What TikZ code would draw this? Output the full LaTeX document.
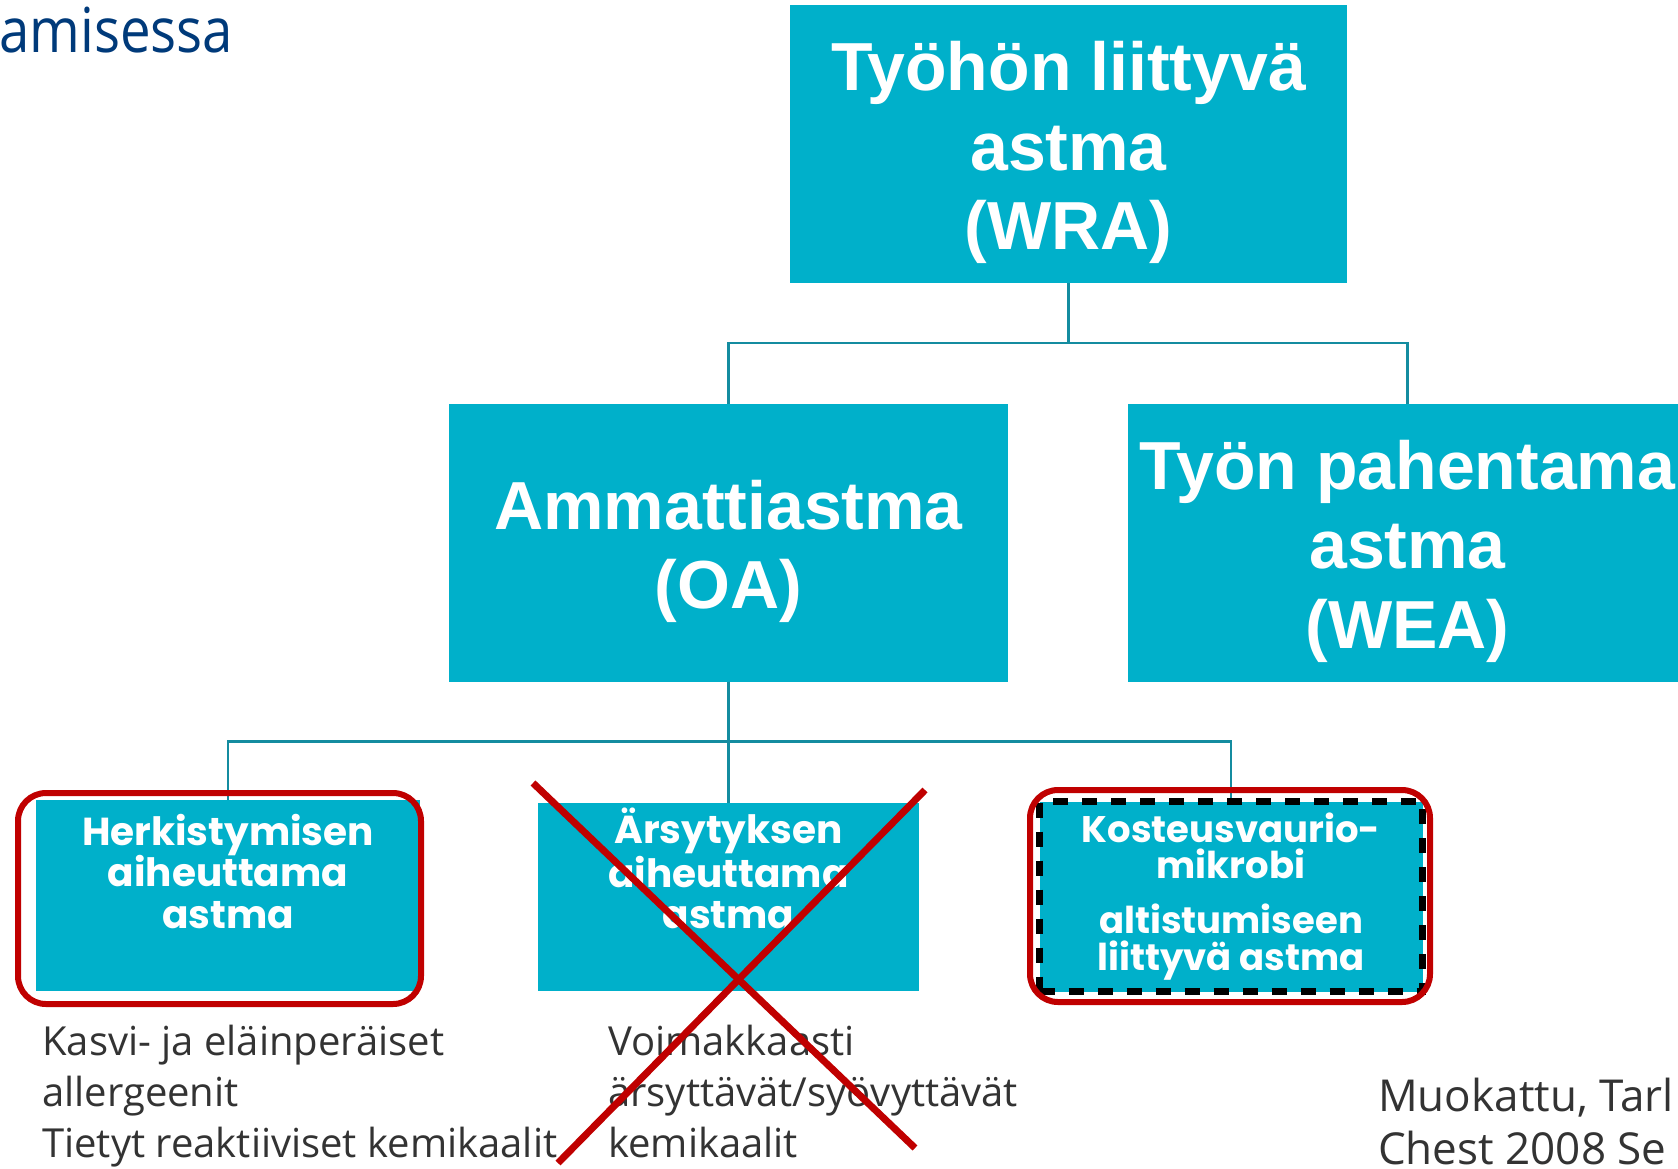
\documentclass[tikz,border=0pt]{standalone}
\usepackage{fontspec}
\newfontfamily\arialf{Liberation Sans}
\newfontfamily\futf{Poppins}
\newfontfamily\segf{Open Sans}
\newfontfamily\segtitle[FakeStretch=0.88]{Open Sans}
\definecolor{tealc}{RGB}{0,176,202}
\definecolor{connc}{RGB}{20,140,160}
\definecolor{redc}{RGB}{192,0,0}
\definecolor{titlec}{RGB}{0,58,122}
\definecolor{bodyc}{RGB}{51,51,51}
\tikzset{
  tealbox/.style={rectangle, fill=tealc, draw=none, inner sep=0pt, outer sep=0pt},
  bigtxt/.style={text=white, font=\arialf\bfseries\fontsize{68}{80}\selectfont, inner sep=0pt, anchor=base},
  smtxt/.style={text=white, font=\futf\bfseries\fontsize{39}{42}\selectfont, inner sep=0pt, anchor=base},
  kosttxt/.style={text=white, font=\futf\bfseries\fontsize{37}{40}\selectfont, inner sep=0pt, anchor=base},
  bodytxt/.style={text=bodyc, font=\segf\fontsize{40}{51}\selectfont, inner sep=0pt, anchor=base west},
  citetxt/.style={text=bodyc, font=\segf\fontsize{44}{53}\selectfont, inner sep=0pt, anchor=base west},
  conn/.style={draw=connc, line width=2.5pt},
  redring/.style={rectangle, draw=redc, line width=6pt, rounded corners=28pt, inner sep=0pt, fill=none},
  dashring/.style={rectangle, draw=black, line width=6.5pt, dash pattern=on 15pt off 14pt, inner sep=0pt},
  redx/.style={draw=redc, line width=7pt},
}
\begin{document}
\begin{tikzpicture}[x=1pt,y=-1pt]
\useasboundingbox (0,0) rectangle (1678,1168);
\clip (0,0) rectangle (1678,1168);
\fill[white] (0,0) rectangle (1678,1168);

% title fragment
\node[text=titlec, font=\segtitle\fontsize{62}{72}\selectfont, inner sep=0pt, anchor=base west] (title) at (-1,52) {amisessa};

% top level
\node[tealbox, minimum width=557pt, minimum height=278pt] (wra) at (1068.5,144) {};
\node[bigtxt] (wra1) at (1068.5,90) {Työhön liittyvä};
\node[bigtxt] (wra2) at (1068.5,170) {astma};
\node[bigtxt] (wra3) at (1068.5,249) {(WRA)};

% second level
\node[tealbox, minimum width=559pt, minimum height=278pt] (oa) at (728.5,542.5) {};
\node[bigtxt] (oa1) at (728.5,529) {Ammattiastma};
\node[bigtxt] (oa2) at (728.5,608) {(OA)};

\node[tealbox, minimum width=559pt, minimum height=278pt] (wea) at (1407.5,542.5) {};
\node[bigtxt] (wea1) at (1407.5,489) {Työn pahentama};
\node[bigtxt] (wea2) at (1407.5,568) {astma};
\node[bigtxt] (wea3) at (1407.5,648) {(WEA)};

% third level
\node[tealbox, minimum width=384pt, minimum height=191pt] (herk) at (228,895.5) {};
\node[smtxt] (herk1) at (228,845) {Herkistymisen};
\node[smtxt] (herk2) at (228,886) {aiheuttama};
\node[smtxt] (herk3) at (228,928) {astma};

\node[tealbox, minimum width=381pt, minimum height=188pt] (ars) at (728.5,896.5) {};
\node[smtxt] (ars1) at (728.5,843) {Ärsytyksen};
\node[smtxt] (ars2) at (728.5,887) {aiheuttama};
\node[smtxt] (ars3) at (728.5,928) {astma};

\node[tealbox, minimum width=383pt, minimum height=190pt] (kost) at (1231,896.5) {};
\node[kosttxt] (kost1) at (1231,842) {Kosteusvaurio-};
\node[kosttxt] (kost2) at (1231,878) {mikrobi};
\node[kosttxt] (kost3) at (1231,933) {altistumiseen};
\node[kosttxt] (kost4) at (1231,970) {liittyvä astma};

% connectors
\draw[conn] (wra.south) -- ++(0,60) -| (oa.north);
\draw[conn] (wra.south) -- ++(0,60) -| (wea.north);
\draw[conn] (oa.south) -- ++(0,60) -| (herk.north);
\draw[conn] (oa.south) -- (ars.north);
\draw[conn] (oa.south) -- ++(0,60) -| (kost.north);

% markings
\node[dashring, minimum width=383pt, minimum height=190pt] (kostdash) at (kost) {};
\node[redring, minimum width=403pt, minimum height=211pt] (herkring) at (219.5,898.5) {};
\node[redring, minimum width=400pt, minimum height=212pt] (kostring) at (1230,896) {};

% lower texts
\node[bodytxt] (h1) at (42,1055) {Kasvi- ja eläinperäiset};
\node[bodytxt] (h2) at (42,1106) {allergeenit};
\node[bodytxt] (h3) at (42,1157) {Tietyt reaktiiviset kemikaalit};

\node[bodytxt] (a1) at (608,1055) {Voimakkaasti};
\node[bodytxt] (a2) at (608,1106) {ärsyttävät/syövyttävät};
\node[bodytxt] (a3) at (608,1157) {kemikaalit};

\node[citetxt] (r1) at (1378,1111) {Muokattu, Tarl};
\node[citetxt] (r2) at (1378,1164) {Chest 2008 Se};

% red cross
\draw[redx] (533,783) -- (915,1148);
\draw[redx] (925,790) -- (558,1163);
\end{tikzpicture}
\end{document}
